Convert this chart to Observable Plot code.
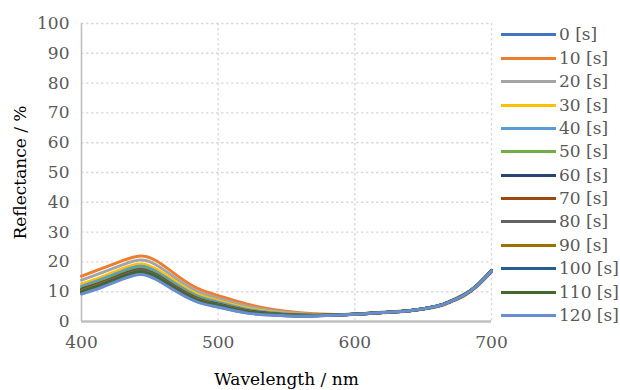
<!DOCTYPE html>
<html>
<head>
<meta charset="utf-8">
<script src="https://cdn.jsdelivr.net/npm/d3@7"></script>
<script src="https://cdn.jsdelivr.net/npm/@observablehq/plot@0.6"></script>
<style>
  html, body { margin: 0; padding: 0; background: #fff; }
  #wrap { position: relative; width: 620px; height: 390px; font-family: "DejaVu Serif", serif; }
  #legend { position: absolute; left: 501px; top: 23.3px; }
  .item { display: flex; align-items: center; height: 23.39px; }
  .swatch { width: 55px; height: 3px; margin-right: 3px; }
  .lab { font-size: 17px; color: #595959; line-height: 1; }
</style>
</head>
<body>
<div id="wrap"></div>
<script>
// Wavelength grid (nm)
const wavelengths = [400, 415, 430, 443, 455, 470, 485, 500, 520, 540, 560, 580, 600, 620, 640, 660, 670, 680, 690, 700];

// Series names and colours
const seriesLabels = ["0 [s]", "10 [s]", "20 [s]", "30 [s]", "40 [s]", "50 [s]", "60 [s]",
  "70 [s]", "80 [s]", "90 [s]", "100 [s]", "110 [s]", "120 [s]"];
const seriesColors = ["#4472C4", "#ED7D31", "#A5A5A5", "#FFC000", "#5B9BD5", "#70AD47", "#264478",
  "#9E480E", "#636363", "#997300", "#255E91", "#43682B", "#698ED0"];

// Reflectance (%) per exposure time
const r0   = [9.4, 11.8, 14.4, 16.0, 14.3, 10.1, 6.7, 5.0, 3.0, 2.2, 1.8, 2.0, 2.4, 3.0, 3.6, 5.1, 6.7, 8.9, 12.3, 17.0];
const r10  = [15.2, 17.8, 20.4, 22.0, 20.3, 15.4, 11.1, 8.7, 6.0, 4.0, 2.9, 2.4, 2.4, 2.9, 3.5, 4.9, 6.5, 8.6, 12.0, 16.7];
const r20  = [13.9, 16.4, 19.0, 20.6, 18.9, 14.2, 10.1, 7.8, 5.3, 3.6, 2.7, 2.3, 2.4, 3.0, 3.6, 5.1, 6.7, 8.9, 12.3, 17.0];
const r30  = [12.6, 15.0, 17.7, 19.3, 17.5, 13.0, 9.1, 7.0, 4.6, 3.2, 2.4, 2.2, 2.4, 3.0, 3.6, 5.1, 6.7, 8.9, 12.3, 17.0];
const r40  = [11.8, 14.2, 16.9, 18.5, 16.7, 12.3, 8.5, 6.5, 4.2, 2.9, 2.3, 2.1, 2.4, 3.0, 3.6, 5.1, 6.7, 8.9, 12.3, 17.0];
const r50  = [11.1, 13.5, 16.2, 17.8, 16.0, 11.7, 8.0, 6.0, 3.9, 2.7, 2.2, 2.1, 2.4, 3.0, 3.6, 5.1, 6.7, 8.9, 12.3, 17.0];
const r60  = [10.8, 13.1, 15.8, 17.4, 15.6, 11.3, 7.7, 5.8, 3.7, 2.6, 2.1, 2.1, 2.4, 3.0, 3.6, 5.1, 6.7, 8.9, 12.3, 17.0];
const r70  = [10.6, 13.0, 15.6, 17.2, 15.4, 11.2, 7.6, 5.7, 3.6, 2.5, 2.1, 2.1, 2.4, 3.0, 3.6, 5.1, 6.7, 8.9, 12.3, 17.0];
const r80  = [10.4, 12.8, 15.4, 17.0, 15.3, 11.0, 7.4, 5.6, 3.5, 2.5, 2.0, 2.1, 2.4, 3.0, 3.6, 5.1, 6.7, 8.9, 12.3, 17.0];
const r90  = [10.2, 12.6, 15.3, 16.9, 15.1, 10.8, 7.3, 5.5, 3.4, 2.4, 2.0, 2.1, 2.4, 3.0, 3.6, 5.1, 6.7, 8.9, 12.3, 17.0];
const r100 = [10.0, 12.4, 15.1, 16.7, 14.9, 10.7, 7.1, 5.4, 3.3, 2.4, 1.9, 2.1, 2.4, 3.0, 3.6, 5.1, 6.7, 8.9, 12.3, 17.0];
const r110 = [9.9, 12.2, 14.9, 16.5, 14.7, 10.5, 7.0, 5.2, 3.2, 2.3, 1.9, 2.1, 2.5, 3.1, 3.7, 5.2, 6.9, 9.1, 12.5, 17.2];
const r120 = [9.2, 11.5, 14.2, 15.8, 14.0, 9.9, 6.5, 4.8, 2.9, 2.1, 1.8, 2.0, 2.4, 3.0, 3.6, 5.1, 6.7, 8.9, 12.3, 17.0];

const seriesValues = [r0, r10, r20, r30, r40, r50, r60, r70, r80, r90, r100, r110, r120];

const yTicks = [0, 10, 20, 30, 40, 50, 60, 70, 80, 90, 100];
const xTicks = [400, 500, 600, 700];

const series = seriesLabels.map((name, i) => ({
  name,
  color: seriesColors[i],
  points: wavelengths.map((w, j) => ({w, r: seriesValues[i][j]}))
}));

const serif = "'DejaVu Serif', serif";
const gridStyle = {stroke: "#d9d9d9", strokeOpacity: 1, strokeWidth: 1.4, strokeDasharray: "2.5,2.5"};

const chart = Plot.plot({
  width: 620,
  height: 390,
  marginLeft: 81,
  marginRight: 129,
  marginTop: 23,
  marginBottom: 69,
  style: {fontFamily: serif, fontSize: "17px", color: "#595959", background: "#fff"},
  x: {domain: [400, 700]},
  y: {domain: [0, 100]},
  marks: [
    Plot.gridY(yTicks.filter(d => d > 0), gridStyle),
    Plot.gridX(xTicks.filter(d => d > 400), gridStyle),
    Plot.axisY(yTicks, {tickSize: 0, tickPadding: 12, label: null, fill: "#595959", fontFamily: serif}),
    Plot.axisX(xTicks, {tickSize: 0, tickPadding: 14, label: null, fill: "#595959", fontFamily: serif}),
    Plot.ruleX([400], {stroke: "#bfbfbf", strokeWidth: 1.6}),
    Plot.ruleY([0], {stroke: "#bfbfbf", strokeWidth: 2.5}),
    ...series.map(s => Plot.line(s.points, {
      x: "w", y: "r", stroke: s.color, strokeWidth: 3, curve: "natural"
    })),
    Plot.text(["Reflectance / %"], {frameAnchor: "left", dx: -61, rotate: -90, textAnchor: "middle", lineAnchor: "middle", fill: "#000", fontSize: 17, fontFamily: serif}),
    Plot.text(["Wavelength / nm"], {frameAnchor: "bottom", dy: 58, textAnchor: "middle", lineAnchor: "middle", fill: "#000", fontSize: 17, fontFamily: serif})
  ]
});

const wrap = document.getElementById("wrap");
wrap.appendChild(chart);

// Legend at the right of the plot area
const legend = document.createElement("div");
legend.id = "legend";
for (const s of series) {
  const item = document.createElement("div");
  item.className = "item";
  const sw = document.createElement("div");
  sw.className = "swatch";
  sw.style.background = s.color;
  const lab = document.createElement("span");
  lab.className = "lab";
  lab.textContent = s.name;
  item.appendChild(sw);
  item.appendChild(lab);
  legend.appendChild(item);
}
wrap.appendChild(legend);
</script>
</body>
</html>
